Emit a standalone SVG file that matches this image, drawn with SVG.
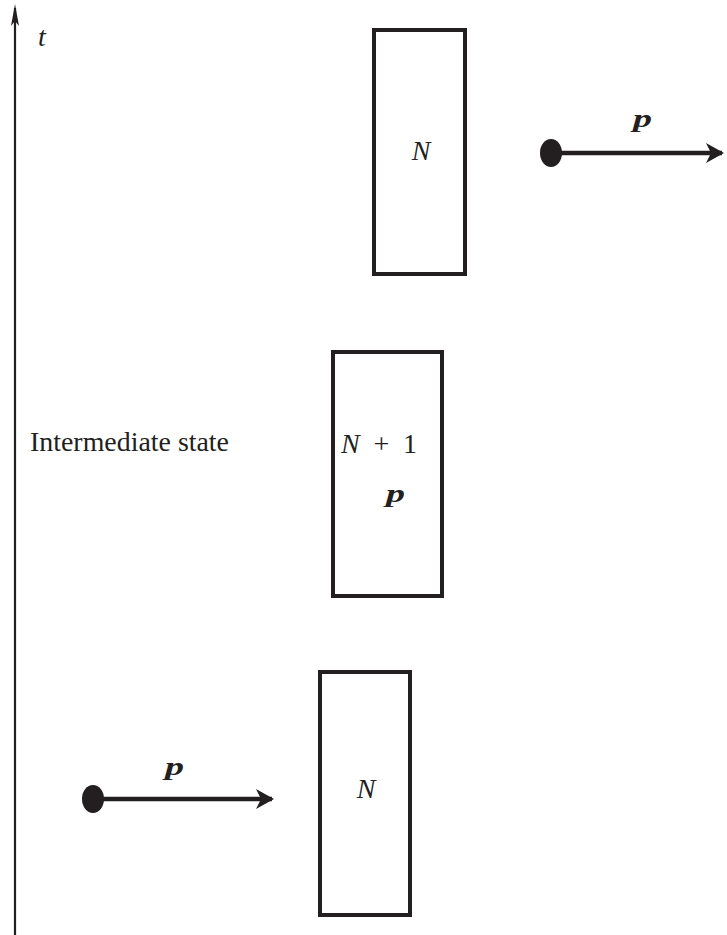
<svg xmlns="http://www.w3.org/2000/svg" width="727" height="935" viewBox="0 0 727 935">
<style>
.box{fill:#fff;stroke:#231f20;stroke-width:4}
.ln{stroke:#231f20;fill:none}
.dot{fill:#231f20}
.it{font-family:"Liberation Serif","DejaVu Serif",serif;font-style:italic;font-size:28px;fill:#231f20}
.rm{font-family:"Liberation Serif","DejaVu Serif",serif;font-size:27px;fill:#231f20}
.up{font-style:normal}
.bp{font-family:"Liberation Serif","DejaVu Serif",serif;font-style:italic;font-weight:bold;font-size:25px;fill:#231f20}
</style>
<defs>
<marker id="ah" viewBox="0 0 18 20" refX="16" refY="10" markerWidth="18" markerHeight="20" markerUnits="userSpaceOnUse" orient="auto">
<path d="M0,0 L18,10 L0,20 L5,10 Z" fill="#231f20"/>
</marker>
</defs>
<g id="connectors">
<line class="ln" x1="15" y1="935" x2="15" y2="8" stroke-width="2.2"/>
<path d="M15,4 L19,26 L15,21 L11,26 Z" fill="#231f20"/>
<line class="ln" x1="560" y1="153" x2="722" y2="153" stroke-width="4.5" marker-end="url(#ah)"/>
<line class="ln" x1="100" y1="799" x2="272" y2="799" stroke-width="4.5" marker-end="url(#ah)"/>
</g>
<g id="axis-label"><text class="it" x="38" y="46">t</text></g>
<g id="top-box">
<rect class="box" x="374" y="30" width="91" height="244"/>
<text class="it" x="421" y="160" text-anchor="middle">N</text>
</g>
<g id="top-particle">
<ellipse class="dot" cx="551" cy="153" rx="11" ry="14"/>
<text class="bp" x="633" y="127" textLength="19" lengthAdjust="spacingAndGlyphs">p</text>
</g>
<g id="middle-box">
<rect class="box" x="333" y="352" width="109" height="244"/>
<text class="it" x="341" y="453" textLength="76" lengthAdjust="spacing">N<tspan class="up"> + 1</tspan></text>
<text class="bp" x="386" y="502" textLength="19" lengthAdjust="spacingAndGlyphs">p</text>
</g>
<g id="intermediate-label"><text class="rm" x="30" y="451" textLength="199" lengthAdjust="spacingAndGlyphs">Intermediate state</text></g>
<g id="bottom-box">
<rect class="box" x="320" y="672" width="90" height="243"/>
<text class="it" x="366" y="798" text-anchor="middle">N</text>
</g>
<g id="bottom-particle">
<ellipse class="dot" cx="93" cy="799" rx="11" ry="14"/>
<text class="bp" x="165" y="775" textLength="19" lengthAdjust="spacingAndGlyphs">p</text>
</g>
</svg>
